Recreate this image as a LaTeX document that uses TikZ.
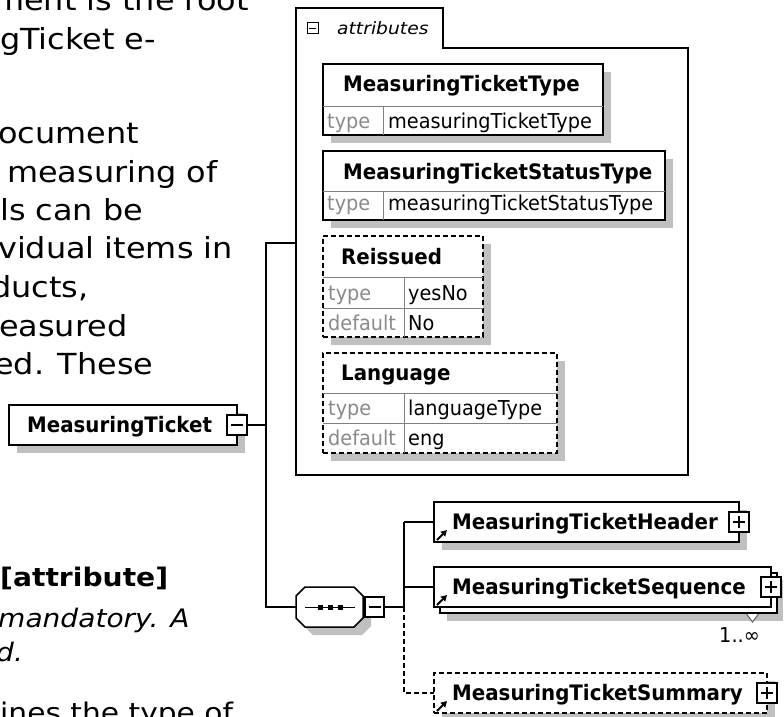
\documentclass[tikz,border=0pt]{standalone}
\usepackage{fontspec}
\usetikzlibrary{arrows.meta}
\newfontfamily\bodyf{DejaVu Sans}[FakeStretch=1.10]
\newfontfamily\dB{DejaVu Sans}[FakeStretch=0.93]
\newfontfamily\dR{DejaVu Sans}[FakeStretch=0.94]
\newfontfamily\dI{DejaVu Sans}[FakeStretch=1.1]
\definecolor{shadowgray}{HTML}{C0C0C0}
\definecolor{txtgray}{HTML}{8A8A8A}
\definecolor{divgray}{HTML}{808080}
\definecolor{trigray}{HTML}{606060}
\tikzset{
  body/.style={anchor=base west, inner sep=0pt, font=\bodyf\fontsize{29}{34}\selectfont},
  bodyi/.style={anchor=base west, inner sep=0pt, font=\bodyf\itshape\fontsize{25.5}{30}\selectfont},
  bodys/.style={anchor=base west, inner sep=0pt, font=\bodyf\fontsize{27}{31}\selectfont},
  headb/.style={anchor=base west, inner sep=0pt, font=\bodyf\bfseries\fontsize{25.6}{30}\selectfont},
  ebold/.style={anchor=base west, inner sep=0pt, font=\dB\bfseries\fontsize{21.3}{24}\selectfont},
  ereg/.style={anchor=base west, inner sep=0pt, font=\dR\fontsize{20.5}{24}\selectfont},
  egray/.style={ereg, text=txtgray},
  shadowfill/.style={fill=shadowgray, draw=none},
  ebox/.style={draw=black, fill=white, line width=1.5pt, rectangle, inner sep=0pt, outer sep=0pt, anchor=north west},
  dbox/.style={ebox, dash pattern=on 5pt off 3pt},
  divline/.style={draw=divgray, line width=1pt},
  conn/.style={draw=black, line width=1.5pt},
  dconn/.style={conn, dash pattern=on 5pt off 3pt},
  grp/.style={draw=black, line width=1.6pt},
  pmbox/.style={draw=black, fill=white, line width=1.3pt, rectangle, inner sep=0pt, outer sep=0pt, minimum width=20pt, minimum height=20pt},
  minusbox/.style={pmbox, path picture={\draw[line width=1.2pt] ([xshift=-6pt]path picture bounding box.center) -- ([xshift=6pt]path picture bounding box.center);}},
  plusbox/.style={pmbox, path picture={\draw[line width=1.2pt] ([xshift=-6pt]path picture bounding box.center) -- ([xshift=6pt]path picture bounding box.center) ([yshift=-6pt]path picture bounding box.center) -- ([yshift=6pt]path picture bounding box.center);}},
  refarrow/.style={line width=1.8pt, -{Triangle[length=6pt,width=6.5pt]}}
}
\begin{document}
\begin{tikzpicture}[x=1pt,y=-1pt]
\useasboundingbox (0,0) rectangle (784,717);
\fill[white] (0,0) rectangle (784,717);
\clip (0,0) rectangle (784,717);

% ---------- left text column ----------
\node[body] (t1) at (-7,11) {ment is the root};
\node[body] (t2) at (0,49) {gTicket e-};
\node[body] (t3) at (-2,143) {ocument};
\node[body] (t4) at (7,182) {measuring of};
\node[body] (t5) at (0,220) {ls can be};
\node[body] (t6) at (-2,258) {vidual items in};
\node[body] (t7) at (-9,297) {ducts,};
\node[body] (t8) at (-1,336) {easured};
\node[body] (t9) at (-6,374) {ed. These};
\node[headb] (t10) at (0,586) {[attribute]};
\node[bodyi] (t11) at (-2,627) {mandatory. A};
\node[bodyi] (t12) at (-4,661) {d.};
\node[bodys] (t13) at (0,722) {ines the type of};

% ---------- attributes group ----------
\draw[grp] (296,475) -- (296,8) -- (443,8) -- (443,48) -- (688,48) -- (688,475) -- cycle;
\coordinate (attrW) at (296,243);
\node[pmbox, minimum width=11pt, minimum height=11pt, line width=1pt,
      path picture={\draw[line width=1pt] ([xshift=-3.5pt]path picture bounding box.center) -- ([xshift=3.5pt]path picture bounding box.center);}]
      (gm) at (312.5,28.5) {};
\node[anchor=base west, inner sep=0pt, font=\dI\itshape\fontsize{17}{20}\selectfont] (gl) at (337,35) {attributes};

% MeasuringTicketType
\fill[shadowfill] (331,72) rectangle (611,143);
\node[ebox, minimum width=280pt, minimum height=71pt] (a1) at (323,64) {};
\draw[divline] (323,106) -- (603,106) (383,106) -- (383,135);
\node[ebold] (a1h) at (343,92) {MeasuringTicketType};
\node[egray] (a1k) at (327,128) {type};
\node[ereg] (a1v) at (388,128) {measuringTicketType};

% MeasuringTicketStatusType
\fill[shadowfill] (331,159) rectangle (673,228);
\node[ebox, minimum width=342pt, minimum height=69pt] (a2) at (323,151) {};
\draw[divline] (323,191) -- (665,191) (383,191) -- (383,220);
\node[ebold] (a2h) at (343,179) {MeasuringTicketStatusType};
\node[egray] (a2k) at (327,210) {type};
\node[ereg] (a2v) at (388,210) {measuringTicketStatusType};

% Reissued
\fill[shadowfill] (331,244) rectangle (491,345);
\node[dbox, minimum width=160pt, minimum height=101pt] (a3) at (323,236) {};
\draw[divline] (323,277) -- (483,277) (323,308) -- (483,308) (404,277) -- (404,337);
\node[ebold] (a3h) at (341,264) {Reissued};
\node[egray] (a3k) at (328,300) {type};
\node[ereg] (a3v) at (408,300) {yesNo};
\node[egray] (a3d) at (328,330) {default};
\node[ereg] (a3w) at (408,330) {No};

% Language
\fill[shadowfill] (331,361) rectangle (565,461);
\node[dbox, minimum width=234pt, minimum height=100pt] (a4) at (323,353) {};
\draw[divline] (323,393) -- (557,393) (323,423) -- (557,423) (404,393) -- (404,453);
\node[ebold] (a4h) at (341,380) {Language};
\node[egray] (a4k) at (328,415) {type};
\node[ereg] (a4v) at (408,415) {languageType};
\node[egray] (a4d) at (328,445) {default};
\node[ereg] (a4w) at (408,445) {eng};

% ---------- MeasuringTicket ----------
\fill[shadowfill] (17,413) rectangle (245,453);
\node[ebox, minimum width=228pt, minimum height=40pt] (mt) at (9,405) {};
\node[ebold] (mtl) at (27,432) {MeasuringTicket};
\node[minusbox] (mtm) at (237,425) {};

\coordinate (j1) at (266,243);
\coordinate (j2) at (266,607);
\draw[conn] (mtm.east) -- (mtm.east -| j1);
\draw[conn] (attrW) -- (j1) -- (j2) -- (296,607) coordinate (octW);

% ---------- sequence compositor ----------
\fill[shadowfill] (304,604) -- (313,595) -- (362,595) -- (371,604) -- (371,626) -- (362,635) -- (313,635) -- (304,626) -- cycle;
\draw[conn, fill=white] (296,596) -- (305,587) -- (354,587) -- (363,596) -- (363,618) -- (354,627) -- (305,627) -- (296,618) -- cycle;
\draw[line width=1pt] (305,607) -- (355,607);
\foreach \dx in {320,330,340} \fill (\dx-2.5,604.5) rectangle (\dx+2.5,609.5);
\node[minusbox, minimum width=19pt] (cm) at (374.5,607) {};

\coordinate (bus1) at (404,522);
\coordinate (bus2) at (404,607);
\coordinate (bus3) at (404,693);
\draw[conn] (cm.east) -- (bus2);
\draw[conn] (bus2) -- (bus1);

% MeasuringTicketHeader
\fill[shadowfill] (442,510) rectangle (747,550);
\node[ebox, minimum width=305pt, minimum height=40pt] (hdr) at (434,502) {};
\node[ebold] (hdrl) at (452,529) {MeasuringTicketHeader};
\node[plusbox] (hdrp) at (739,522) {};
\draw[refarrow] ([shift={(3,-2)}]hdr.south west) -- ++(10,-10);
\draw[conn] (bus1) -- (hdr.west);

% MeasuringTicketSequence
\fill[shadowfill] (447,580) rectangle (783,621);
\draw[draw=trigray, fill=white, line width=1pt] (742,608) -- (763,608) -- (752.5,622) -- cycle;
\node[ebox, minimum width=337pt, minimum height=40pt] (seqb) at (440,573) {};
\node[ebox, minimum width=337pt, minimum height=40pt] (seq) at (434,567) {};
\node[ebold] (seql) at (452,594) {MeasuringTicketSequence};
\node[plusbox] (seqp) at (771,587) {};
\draw[refarrow] ([shift={(3,-2)}]seq.south west) -- ++(10,-10);
\draw[conn] (seq.west -| bus1) -- (seq.west);
\node[ereg, anchor=base east] (occ) at (760,642) {1..∞};

% MeasuringTicketSummary
\fill[shadowfill] (442,681) rectangle (775,721);
\node[dbox, minimum width=333pt, minimum height=40pt] (sum) at (434,673) {};
\node[ebold] (suml) at (452,700) {MeasuringTicketSummary};
\node[plusbox] (sump) at (767,693) {};
\draw[refarrow] ([shift={(3,-2)}]sum.south west) -- ++(10,-10);
\draw[dconn] (bus2) -- (bus3) -- (sum.west);
\end{tikzpicture}
\end{document}
